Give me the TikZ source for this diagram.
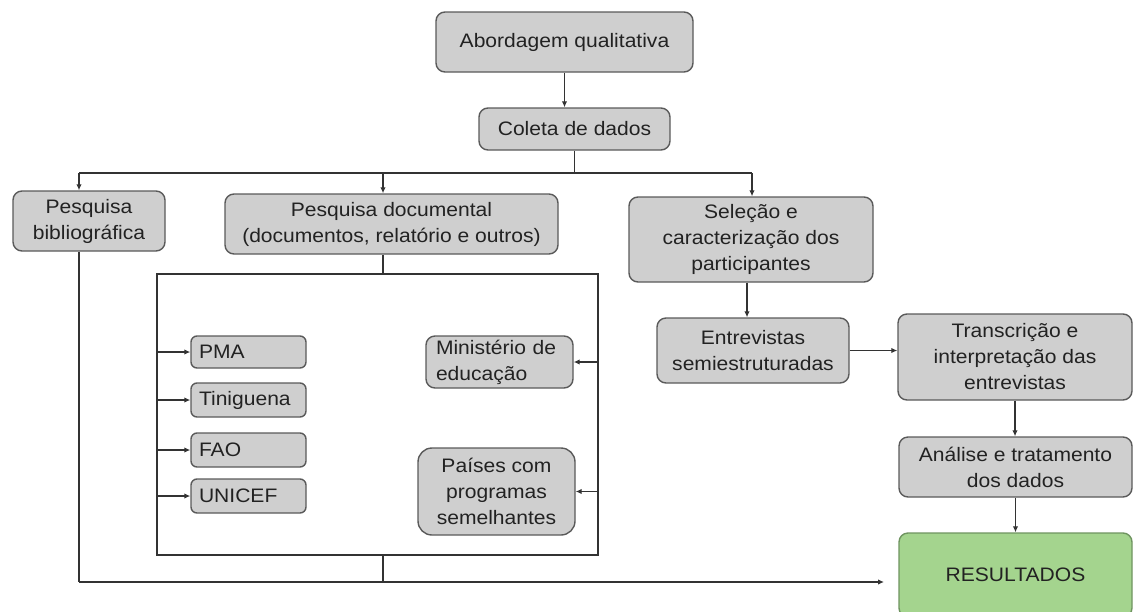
\documentclass[tikz,border=0pt]{standalone}
\usepackage{fontspec}
\setmainfont[FakeStretch=1.08]{Liberation Sans}
\usetikzlibrary{arrows.meta}
\definecolor{boxfill}{HTML}{CFCFCF}
\definecolor{boxline}{HTML}{5A5A5A}
\definecolor{greenfill}{HTML}{A4D48E}
\definecolor{greenline}{HTML}{6F9460}
\definecolor{linecol}{HTML}{333333}
\definecolor{txt}{HTML}{222222}
\begin{document}
\begin{tikzpicture}[x=1pt,y=-1pt,
  every node/.style={font=\fontsize{19.5}{26}\selectfont, text=txt},
  box/.style={draw=boxline, fill=boxfill, rounded corners=9pt, line width=1.4pt, inner sep=0pt, align=center},
  lbox/.style={draw=boxline, fill=boxfill, rounded corners=6pt, line width=1.4pt, inner ysep=0pt, align=left},
  gbox/.style={box, draw=greenline, fill=greenfill},
  framebox/.style={draw=linecol, line width=1.8pt, inner sep=0pt},
  ln/.style={draw=linecol, line width=1.8pt},
  arr/.style={ln, -{Latex[length=6pt,width=5.5pt]}}]
\useasboundingbox (0,0) rectangle (1135,611);
% boxes
\node[box, minimum width=257pt, minimum height=60pt] (abord) at (564.5,42) {Abordagem qualitativa};
\node[box, minimum width=191pt, minimum height=42pt] (coleta) at (574.5,129) {Coleta de dados};
\node[box, minimum width=152pt, minimum height=60pt] (biblio) at (89,221) {Pesquisa\\bibliográfica};
\node[box, minimum width=333pt, minimum height=60pt] (doc) at (391.5,224) {Pesquisa documental\\(documentos, relatório e outros)};
\node[box, minimum width=244pt, minimum height=85pt] (selecao) at (751,239.5) {Seleção e\\caracterização dos\\participantes};
\node[box, minimum width=192pt, minimum height=65pt] (entrev) at (753,350.5) {Entrevistas\\semiestruturadas};
\node[box, minimum width=234pt, minimum height=86pt] (transc) at (1015,357) {Transcrição e\\interpretação das\\entrevistas};
\node[box, minimum width=233pt, minimum height=60pt] (analise) at (1015.5,467) {Análise e tratamento\\dos dados};
\node[gbox, minimum width=233pt, minimum height=84pt] (result) at (1015.5,575) {RESULTADOS};
% frame
\node[framebox, minimum width=441pt, minimum height=281pt] (frame) at (377.5,414.5) {};
\node[lbox, inner xsep=8pt, text width=99pt, minimum height=32pt] (pma) at (248.5,352) {PMA};
\node[lbox, inner xsep=8pt, text width=99pt, minimum height=34pt] (tin) at (248.5,400) {Tiniguena};
\node[lbox, inner xsep=8pt, text width=99pt, minimum height=34pt] (fao) at (248.5,450) {FAO};
\node[lbox, inner xsep=8pt, text width=99pt, minimum height=34pt] (unicef) at (248.5,496) {UNICEF};
\node[lbox, rounded corners=9pt, inner xsep=10pt, text width=127pt, minimum height=52pt] (minist) at (499.5,362) {Ministério de\\educação};
\node[box, minimum width=157pt, minimum height=87pt, rounded corners=14pt] (paises) at (496.5,491.5) {Países com\\programas\\semelhantes};
% coordinates
\coordinate (busL) at (79,173);
\coordinate (busD) at (383,173);
\coordinate (busR) at (752,173);
\coordinate (bot) at (79,582);
\coordinate (resin) at (884,582);
\coordinate (selx) at (747,0);
% connectors
\draw[arr] (abord.south) -- (abord.south |- coleta.north);
\draw[ln] (coleta.south) -- (coleta.south |- busL);
\draw[ln] (busL) -- (busR);
\draw[arr] (busL) -- (busL |- biblio.north);
\draw[arr] (busD) -- (busD |- doc.north);
\draw[arr] (busR) -- (busR |- selecao.north);
\draw[ln] (busD |- doc.south) -- (busD |- frame.north);
\draw[arr] (frame.west |- pma.west) -- (pma.west);
\draw[arr] (frame.west |- tin.west) -- (tin.west);
\draw[arr] (frame.west |- fao.west) -- (fao.west);
\draw[arr] (frame.west |- unicef.west) -- (unicef.west);
\draw[arr] (frame.east |- minist.east) -- (minist.east);
\draw[arr] (frame.east |- paises.east) -- (paises.east);
\draw[ln] (busD |- frame.south) -- (busD |- bot);
\draw[ln] (busL |- biblio.south) -- (bot);
\draw[arr] (bot) -- (resin);
\draw[arr] (selx |- selecao.south) -- (selx |- entrev.north);
\draw[arr] (entrev.east) -- (transc.west |- entrev.east);
\draw[arr] (transc.south) -- (transc.south |- analise.north);
\draw[arr] (analise.south) -- (analise.south |- result.north);
\end{tikzpicture}
\end{document}
